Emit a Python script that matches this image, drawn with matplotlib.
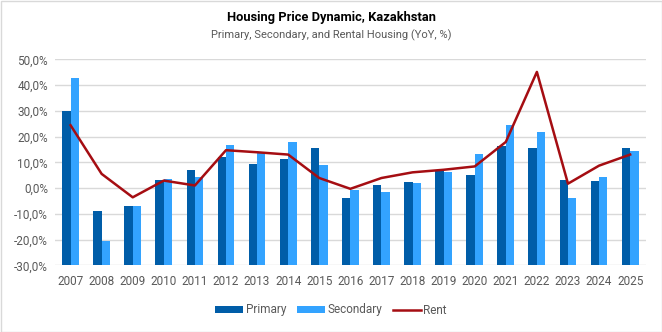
import numpy as np
import matplotlib.pyplot as plt
from matplotlib.ticker import FuncFormatter

plt.rcParams["font.family"] = ["Roboto", "DejaVu Sans"]

years = [str(y) for y in range(2007, 2026)]
primary = [30.1, -8.8, -6.9, 3.2, 7.1, 12.2, 9.5, 11.4, 15.7, -3.8,
           1.3, 2.5, 6.5, 5.2, 16.5, 15.7, 3.2, 2.9, 15.7]
secondary = [42.6, -20.5, -6.9, 3.6, 4.4, 16.9, 13.9, 17.7, 9.1, -0.6,
             -1.4, 2.1, 6.4, 13.4, 24.3, 21.6, -3.8, 4.4, 14.5]
rent = [24.4, 5.5, -3.6, 2.9, 1.0, 14.7, 13.9, 13.0, 3.9, -0.3,
        3.9, 6.1, 7.1, 8.4, 17.9, 45.1, 1.7, 8.7, 13.0]

C_PRI = "#005DA8"
C_SEC = "#33A3FF"
C_RENT = "#A50D12"
GRID = "#D9D9D9"
TXT = "#595959"
YMIN, YMAX = -30, 50

fig = plt.figure(figsize=(6.62, 3.32), dpi=100)
ax = fig.add_axes([55 / 662, 1 - 265.3 / 332, (645.7 - 55) / 662, (265.3 - 59.3) / 332])

x = np.arange(len(years))
w = 0.27
# bars rise from the axis floor (horizontal axis crosses at -30%)
ax.bar(x - w / 2, np.array(primary) - YMIN, w, bottom=YMIN, color=C_PRI, label="Primary", zorder=2)
ax.bar(x + w / 2, np.array(secondary) - YMIN, w, bottom=YMIN, color=C_SEC, label="Secondary", zorder=2)
ax.plot(x, rent, color=C_RENT, lw=1.8, label="Rent", zorder=3)

ax.set_xlim(-0.5, len(years) - 0.5)
ax.set_ylim(YMIN, YMAX)
ax.set_yticks(np.arange(YMIN, YMAX + 1, 10))
ax.yaxis.set_major_formatter(FuncFormatter(lambda v, _: f"{v:.1f}%".replace(".", ",")))
ax.set_xticks(x)
ax.set_xticklabels(years)
ax.grid(axis="y", color=GRID, lw=1, zorder=0)
ax.set_axisbelow(True)
for s in ax.spines.values():
    s.set_visible(False)
ax.tick_params(length=0, labelsize=8.5, labelcolor=TXT)
ax.tick_params(axis="x", pad=7)
ax.tick_params(axis="y", pad=5)

fig.text(0.5, 1 - 18 / 332, "Housing Price Dynamic, Kazakhstan", ha="center", va="center",
         fontsize=9.3, fontweight="bold", color="black")
fig.text(0.5, 1 - 35 / 332, "Primary, Secondary, and Rental Housing (YoY, %)", ha="center",
         va="center", fontsize=8, color=TXT)

h, l = ax.get_legend_handles_labels()
order = [1, 2, 0]
leg = fig.legend([h[i] for i in order], [l[i] for i in order], loc="center",
                 bbox_to_anchor=(0.5, 1 - 310 / 332), ncol=3, frameon=False,
                 fontsize=8.5, handlelength=2.4, handleheight=0.6, handletextpad=0.2,
                 columnspacing=0.9)
for t in leg.get_texts():
    t.set_color(TXT)

fig.patches.append(plt.Rectangle((0.5 / 662, 0.5 / 332), 1 - 1 / 662, 1 - 1 / 332,
                                 transform=fig.transFigure, fill=False, ec=GRID, lw=1))

fig.savefig("out.png", dpi=100)
